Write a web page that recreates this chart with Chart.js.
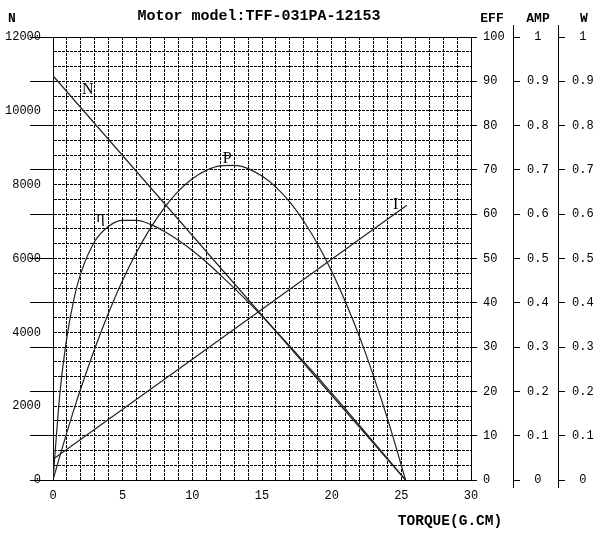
<!DOCTYPE html>
<html>
<head>
<meta charset="utf-8">
<script src="https://cdn.jsdelivr.net/npm/chart.js@4"></script>
<style>
  body { margin: 0; background: #fff; }
  #wrap { width: 602px; height: 541px; }
</style>
</head>
<body>
<div id="wrap"><canvas id="chart" width="602" height="541"></canvas></div>
<script>
// torque (g.cm) sample points for the curved lines
const torque = [0, 0.5, 1, 1.5, 2, 3, 4, 5, 6, 7, 8, 9, 10, 11, 12, 13, 14, 15, 16, 17, 18, 19, 20, 21, 22, 23, 24, 25, 25.3];
// efficiency (%)
const effValues = [0, 19.7, 32.3, 40.8, 46.7, 53.9, 57.3, 58.6, 58.6, 57.7, 56.1, 54.1, 51.8, 49.2, 46.3, 43.3, 40.2, 37.0, 33.6, 30.2, 26.7, 23.2, 19.6, 16.0, 12.3, 8.6, 4.9, 1.1, 0];
// output power (W)
const powerValues = [0, 0.055, 0.108, 0.159, 0.207, 0.297, 0.378, 0.451, 0.514, 0.569, 0.615, 0.652, 0.680, 0.699, 0.709, 0.710, 0.703, 0.686, 0.661, 0.627, 0.584, 0.532, 0.471, 0.401, 0.323, 0.235, 0.139, 0.033, 0];
// speed (rpm) and current (A) are straight lines
const speedTorque = [0, 25.3];
const speedValues = [10950, 0];
const currentTorque = [0, 25.4];
const currentValues = [0.047, 0.62];

// tick labels
const torqueLabels = [0, 5, 10, 15, 20, 25, 30];
const speedLabels = [0, 2000, 4000, 6000, 8000, 10000, 12000];

const title = 'Motor model:TFF-031PA-12153';

// curve name labels, in torque / rpm coordinates
const curveNames = [
  { text: 'N', x: 2.5, y: 10450 },
  { text: 'P', x: 12.5, y: 8590 },
  { text: '\u03b7', x: 3.4, y: 6990 },
  { text: 'I', x: 24.6, y: 7340 }
];

const tickFont = { family: '"Liberation Mono", monospace', size: 12 };
const lineColor = '#222';
const gridDash = [3, 1];

const pts = (xs, ys) => xs.map((x, i) => ({ x: x, y: ys[i] }));
const tenths = v => String(Number(v.toFixed(1)));

const overlay = {
  id: 'overlay',
  afterDatasetsDraw(chart) {
    const { ctx, scales } = chart;
    ctx.save();
    ctx.fillStyle = '#000';
    ctx.font = '16px "Liberation Serif", serif';
    ctx.textAlign = 'center';
    ctx.textBaseline = 'alphabetic';
    curveNames.forEach(c => {
      ctx.fillText(c.text, scales.x.getPixelForValue(c.x), scales.yN.getPixelForValue(c.y));
    });
    ctx.restore();
  },
  afterDraw(chart) {
    const { ctx, chartArea: a, scales } = chart;
    ctx.save();
    ctx.strokeStyle = '#000';
    ctx.lineWidth = 1;
    // top edge of the grid box
    ctx.beginPath();
    ctx.moveTo(a.left, a.top + 0.5);
    ctx.lineTo(a.right, a.top + 0.5);
    ctx.stroke();
    // AMP and W axis lines run a bit past the plot
    ['yA', 'yW'].forEach(id => {
      const x = Math.round(scales[id].left) + 0.5;
      ctx.beginPath();
      ctx.moveTo(x, a.top - 12);
      ctx.lineTo(x, a.bottom + 8);
      ctx.stroke();
    });

    ctx.fillStyle = '#000';
    ctx.textAlign = 'center';
    ctx.textBaseline = 'middle';
    ctx.font = 'bold 15px "Liberation Mono", monospace';
    ctx.fillText(title, 259, 16);
    ctx.font = 'bold 13px "Liberation Mono", monospace';
    ctx.fillText('N', 12, 19);
    ctx.fillText('EFF', scales.yE.left + 21, 19);
    ctx.fillText('AMP', scales.yA.left + 25, 19);
    ctx.fillText('W', scales.yW.left + 26, 19);
    ctx.font = 'bold 14.5px "Liberation Mono", monospace';
    ctx.fillText('TORQUE(G.CM)', 450, 521);
    ctx.restore();
  }
};

const lineDs = (data, axis, curved) => ({
  data: data,
  yAxisID: axis,
  borderColor: lineColor,
  borderWidth: 1.2,
  pointRadius: 0,
  fill: false,
  cubicInterpolationMode: curved ? 'monotone' : 'default',
  tension: 0
});

new Chart(document.getElementById('chart'), {
  type: 'line',
  data: {
    datasets: [
      lineDs(pts(speedTorque, speedValues), 'yN', false),
      lineDs(pts(currentTorque, currentValues), 'yA', false),
      lineDs(pts(torque, powerValues), 'yW', true),
      lineDs(pts(torque, effValues), 'yE', true)
    ]
  },
  options: {
    responsive: false,
    devicePixelRatio: 1,
    animation: false,
    layout: { padding: { top: 37, left: 0, right: 0, bottom: 0 } },
    plugins: { legend: { display: false }, tooltip: { enabled: false }, title: { display: false } },
    scales: {
      x: {
        type: 'linear', min: 0, max: 30,
        afterFit(s) { s.height = 61; },
        ticks: {
          stepSize: 1, autoSkip: false, maxRotation: 0, padding: 9, color: '#000', font: tickFont,
          callback: v => torqueLabels.includes(v) ? String(v) : ''
        },
        grid: { color: '#000', lineWidth: 1, drawTicks: false },
        border: { color: '#000', dash: gridDash }
      },
      yN: {
        position: 'left', min: 0, max: 12000,
        afterFit(s) { s.width = 53; },
        ticks: {
          stepSize: 400, autoSkip: false, padding: -11, color: '#000', font: tickFont,
          callback: v => speedLabels.includes(v) ? String(v) : ''
        },
        grid: {
          color: '#000', lineWidth: 1, tickLength: 23, tickBorderDash: [],
          tickColor: c => (c.tick && c.tick.value % 1200 === 0) ? '#000' : 'rgba(0,0,0,0)'
        },
        border: { color: '#000', dash: gridDash }
      },
      yE: {
        position: 'right', weight: 0, min: 0, max: 100,
        afterFit(s) { s.width = 42; },
        ticks: { stepSize: 10, autoSkip: false, padding: 6, color: '#000', font: tickFont, crossAlign: 'near' },
        grid: { drawOnChartArea: false, tickLength: 6, tickColor: '#000', color: '#000' },
        border: { color: '#000' }
      },
      yA: {
        position: 'right', weight: 1, min: 0, max: 1,
        afterFit(s) { s.width = 45; },
        ticks: { stepSize: 0.1, autoSkip: false, padding: 7, color: '#000', font: tickFont, crossAlign: 'center', callback: tenths },
        grid: { drawOnChartArea: false, tickLength: 7, tickColor: '#000', color: '#000' },
        border: { display: false }
      },
      yW: {
        position: 'right', weight: 2, min: 0, max: 1,
        afterFit(s) { s.width = 44; },
        ticks: { stepSize: 0.1, autoSkip: false, padding: 7, color: '#000', font: tickFont, crossAlign: 'center', callback: tenths },
        grid: { drawOnChartArea: false, tickLength: 7, tickColor: '#000', color: '#000' },
        border: { display: false }
      }
    }
  },
  plugins: [overlay]
});
</script>
</body>
</html>
